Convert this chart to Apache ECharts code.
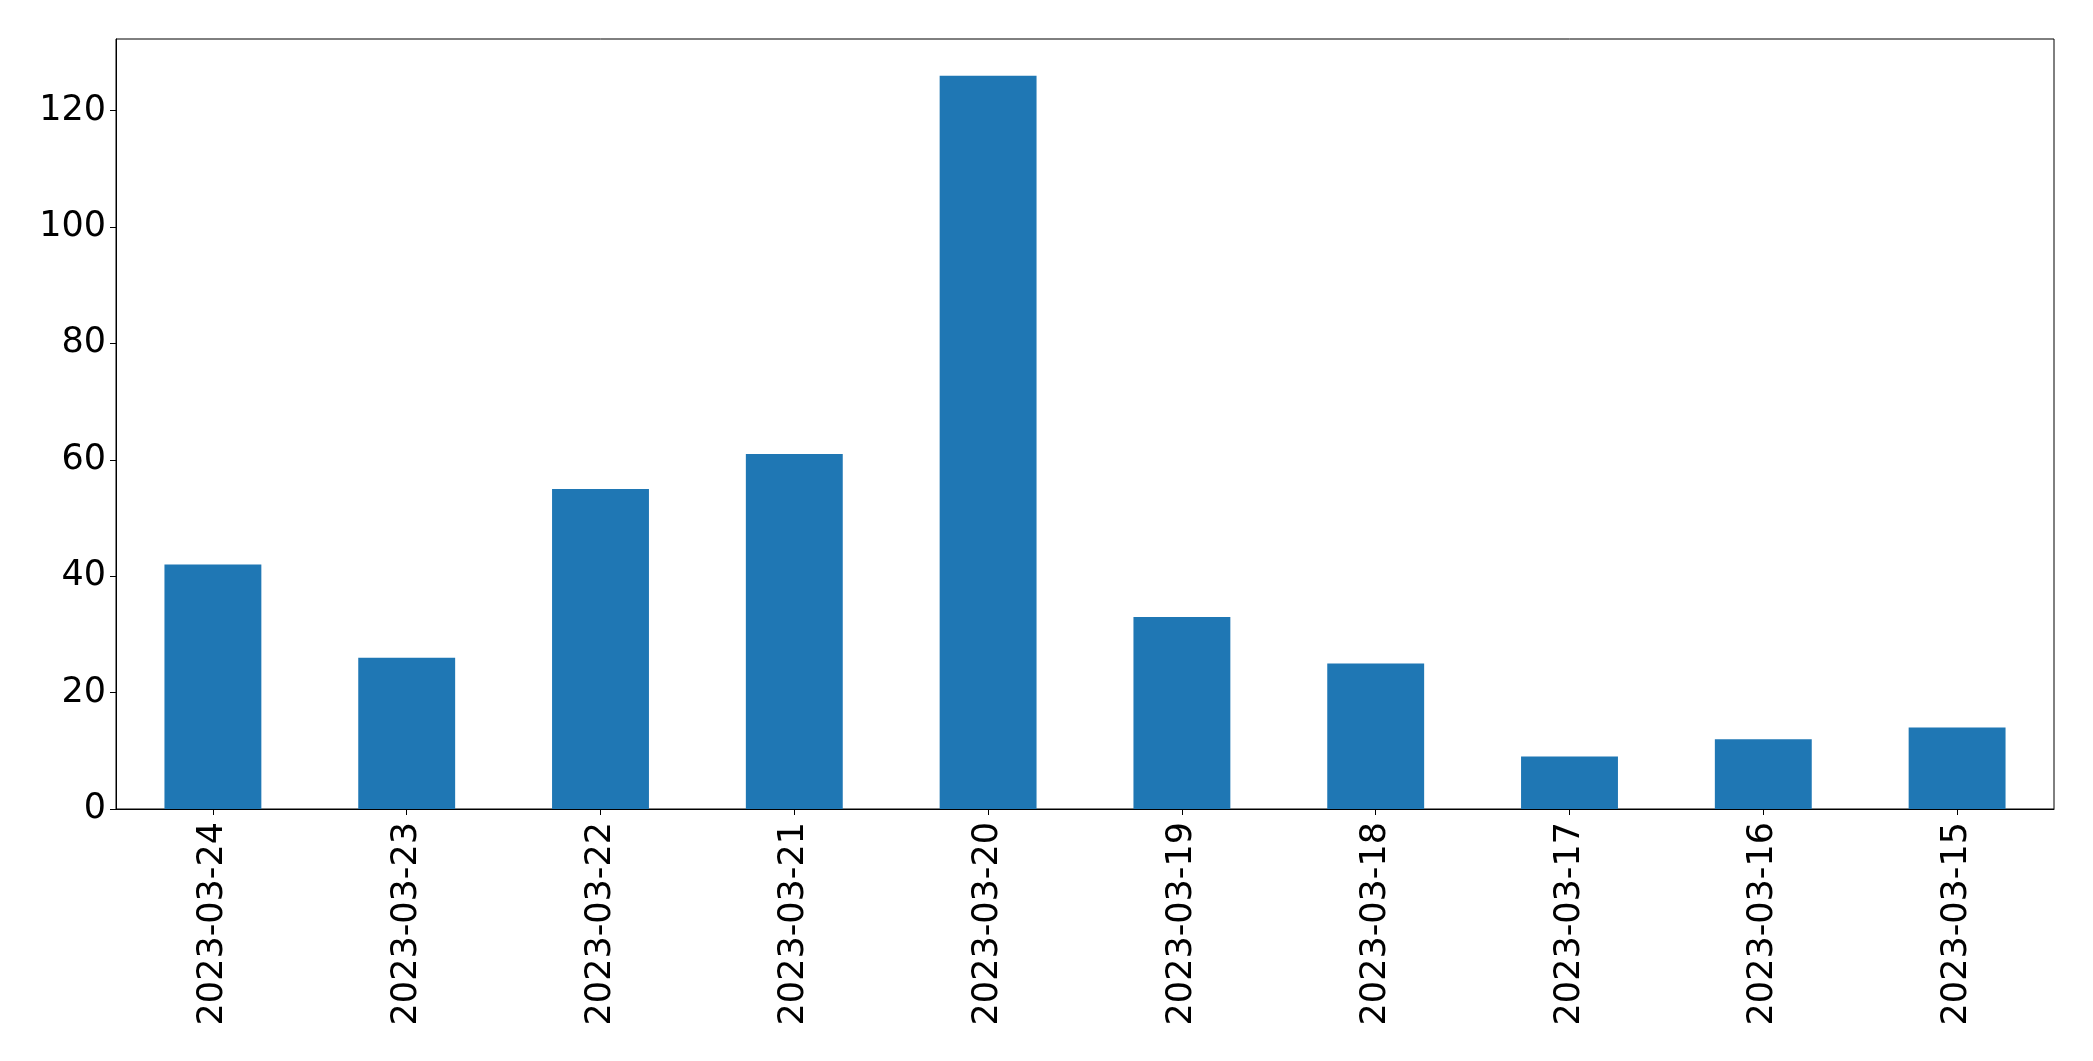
<!DOCTYPE html>
<html>
<head>
<meta charset="utf-8">
<script src="https://cdn.jsdelivr.net/npm/echarts@6/dist/echarts.min.js"></script>
<style>
html,body{margin:0;padding:0;background:#fff;}
#chart{width:2093px;height:1061px;}
</style>
</head>
<body>
<div id="chart"></div>
<script>
const categories = ['2023-03-24','2023-03-23','2023-03-22','2023-03-21','2023-03-20','2023-03-19','2023-03-18','2023-03-17','2023-03-16','2023-03-15'];
const values = [42, 26, 55, 61, 126, 33, 25, 9, 12, 14];
const yTicks = [0, 20, 40, 60, 80, 100, 120];

const chart = echarts.init(document.getElementById('chart'), null, {renderer: 'canvas'});
const font = 'DejaVu Sans';
chart.setOption({
  animation: false,
  backgroundColor: '#ffffff',
  grid: {
    left: 116, top: 39, right: 39, bottom: 252,
    show: true, borderColor: '#000', borderWidth: 1, backgroundColor: 'transparent'
  },
  xAxis: {
    type: 'category',
    data: categories,
    axisLine: {show: true, lineStyle: {color: '#000', width: 1}},
    axisTick: {show: true, alignWithLabel: true, length: 6, lineStyle: {color: '#000', width: 1}},
    axisLabel: {rotate: 90, color: '#000', fontFamily: font, fontSize: 35, margin: 13, interval: 0},
    splitLine: {show: false}
  },
  yAxis: {
    type: 'value',
    min: 0,
    max: 132.3,
    interval: 20,
    axisLine: {show: true, lineStyle: {color: '#000', width: 1}},
    axisTick: {show: true, length: 6, lineStyle: {color: '#000', width: 1}, customValues: yTicks},
    axisLabel: {color: '#000', fontFamily: font, fontSize: 35, margin: 10, padding: [6, 0, 0, 0], customValues: yTicks},
    splitLine: {show: false}
  },
  series: [{
    type: 'bar',
    data: values,
    barWidth: '50%',
    itemStyle: {color: '#1f77b4'}
  }]
});
</script>
</body>
</html>
